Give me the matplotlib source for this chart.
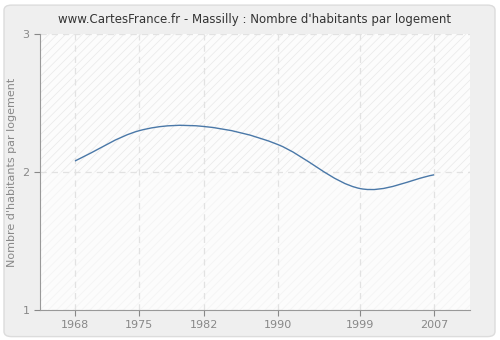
import matplotlib
matplotlib.use('Agg')
import matplotlib.pyplot as plt
import numpy as np
from matplotlib.path import Path
from matplotlib.patches import PathPatch, Rectangle, FancyBboxPatch

years = [1968, 1975, 1982, 1990, 1999, 2007]
habitants = [2.08, 2.30, 2.33, 2.20, 1.88, 1.98]
xticks = [1968, 1975, 1982, 1990, 1999, 2007]
yticks = [1, 2, 3]

plt.rcParams['hatch.linewidth'] = 0.5

fig = plt.figure(figsize=(5, 3.4), dpi=100)
fig.patch.set_facecolor('white')
# rounded grey frame around the whole chart
frame = FancyBboxPatch((0.008, 0.01), 0.982, 0.975, boxstyle='round,pad=0,rounding_size=0.015',
                       transform=fig.transFigure, facecolor='#efefef', edgecolor='#dcdcdc',
                       linewidth=1.0, zorder=-10)
fig.patches.append(frame)

ax = fig.add_axes([0.08, 0.088, 0.86, 0.812])
ax.set_facecolor('#fcfcfc')
ax.set_xlim(1964.2, 2010.9)
ax.set_ylim(1, 3)

# hatched background, stronger above 2
ax.add_patch(Rectangle((1964.2, 2), 46.7, 1, facecolor='none', edgecolor='#e8e8e8',
                       hatch='////', linewidth=0, zorder=0))
ax.add_patch(Rectangle((1964.2, 1), 46.7, 1, facecolor='none', edgecolor='#f3f3f3',
                       hatch='////', linewidth=0, zorder=0))

ax.grid(True, color='#e2e2e2', linestyle=(0, (5, 4)), linewidth=0.9)
ax.set_axisbelow(True)

# smooth curve through the points with cubic Bezier segments
x = np.array(years, dtype=float)
y = np.array(habitants)
t = np.zeros_like(y)
t[1:-1] = (y[2:] - y[:-2]) / (x[2:] - x[:-2])
t[0] = (y[1] - y[0]) / (x[1] - x[0])
t[-1] = (y[-1] - y[-2]) / (x[-1] - x[-2])
verts = [(x[0], y[0])]
codes = [Path.MOVETO]
for i in range(len(x) - 1):
    h = (x[i + 1] - x[i]) / 3
    verts += [(x[i] + h, y[i] + t[i] * h), (x[i + 1] - h, y[i + 1] - t[i + 1] * h), (x[i + 1], y[i + 1])]
    codes += [Path.CURVE4] * 3
ax.add_patch(PathPatch(Path(verts, codes), facecolor='none', edgecolor='#4a78a8', linewidth=1.0, zorder=3))

ax.set_xticks(xticks)
ax.set_yticks(yticks)
ax.tick_params(colors='#888888', labelcolor='#888888', labelsize=8, length=4, width=0.8)
for s in ['top', 'right']:
    ax.spines[s].set_visible(False)
for s in ['left', 'bottom']:
    ax.spines[s].set_color('#999999')
ax.set_ylabel("Nombre d'habitants par logement", color='#888888', fontsize=8)
ax.set_title("www.CartesFrance.fr - Massilly : Nombre d'habitants par logement",
             fontsize=8.5, color='#333333', pad=8)

fig.savefig('out.png', dpi=100, facecolor=fig.get_facecolor())
